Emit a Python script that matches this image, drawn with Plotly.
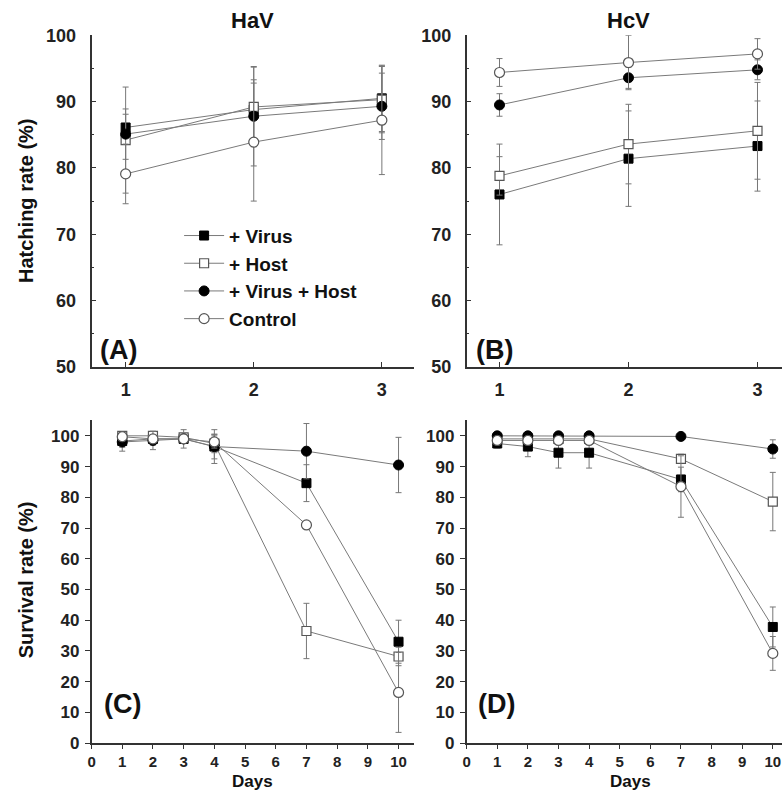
import plotly.graph_objects as go

# ---------------- data ----------------
series_names = ["+ Virus", "+ Host", "+ Virus + Host", "Control"]
hatch_days = [1, 2, 3]
surv_days = [1, 2, 3, 4, 7, 10]

# (A) HaV hatching rate
hav_virus = [86.1, 88.8, 90.5]
hav_host = [84.2, 89.2, 90.3]
hav_vh = [85.1, 87.8, 89.3]
hav_ctrl = [79.1, 83.9, 87.2]
hav_virus_err = [2.0, 4.5, 5.0]
hav_host_err = [8.0, 6.0, 5.0]
hav_vh_err = [3.8, 7.5, 5.0]
hav_ctrl_err = [4.5, 8.9, 8.2]

# (B) HcV hatching rate
hcv_virus = [76.0, 81.4, 83.3]
hcv_host = [78.8, 83.6, 85.6]
hcv_vh = [89.5, 93.6, 94.8]
hcv_ctrl = [94.4, 95.9, 97.2]
hcv_virus_err = [7.6, 7.2, 6.8]
hcv_host_err = [2.9, 6.0, 7.3]
hcv_vh_err = [1.7, 1.6, 1.5]
hcv_ctrl_err = [2.1, 4.1, 2.3]

# (C) HaV survival rate
c_virus = [98.3, 99.0, 99.0, 96.5, 84.6, 33.0]
c_host = [100.0, 100.0, 99.5, 97.5, 36.5, 28.2]
c_vh = [98.0, 98.5, 99.0, 96.5, 95.0, 90.5]
c_ctrl = [99.7, 99.0, 99.0, 98.0, 71.0, 16.5]
c_virus_err = [2.0, 2.0, 1.5, 4.0, 6.0, 7.0]
c_host_err = [1.0, 1.0, 1.0, 3.0, 9.0, 3.0]
c_vh_err = [3.0, 3.0, 3.0, 5.5, 9.0, 9.0]
c_ctrl_err = [1.0, 1.0, 1.0, 2.0, 1.0, 13.0]

# (D) HcV survival rate
d_virus = [97.5, 96.5, 94.5, 94.5, 85.8, 37.8]
d_host = [99.0, 99.0, 99.0, 99.0, 92.5, 78.6]
d_vh = [100.0, 100.0, 100.0, 100.0, 99.8, 95.7]
d_ctrl = [98.5, 98.5, 98.5, 98.5, 83.5, 29.2]
d_virus_err = [1.5, 3.3, 5.0, 5.0, 4.0, 6.5]
d_host_err = [1.0, 1.0, 1.0, 1.0, 1.5, 9.5]
d_vh_err = [0.5, 0.5, 0.5, 0.5, 0.5, 3.0]
d_ctrl_err = [1.0, 1.0, 1.0, 1.0, 10.0, 5.5]

# ---------------- styles ----------------
LINE_C = "#7a7a7a"
ERR_C = "#777777"
marker_styles = {
    "+ Virus": dict(symbol="square", size=9, color="black", line=dict(color="black", width=1)),
    "+ Host": dict(symbol="square", size=9, color="white", line=dict(color="#555555", width=1.2)),
    "+ Virus + Host": dict(symbol="circle", size=10, color="black", line=dict(color="black", width=1)),
    "Control": dict(symbol="circle", size=10, color="white", line=dict(color="#555555", width=1.2)),
}

FONT = "Liberation Sans Narrow, Liberation Sans, Arial, sans-serif"
FONT_W = "Liberation Sans, Arial, sans-serif"

fig = go.Figure()

panels = [
    ("x", "y", hatch_days, [hav_virus, hav_host, hav_vh, hav_ctrl],
     [hav_virus_err, hav_host_err, hav_vh_err, hav_ctrl_err], True),
    ("x2", "y2", hatch_days, [hcv_virus, hcv_host, hcv_vh, hcv_ctrl],
     [hcv_virus_err, hcv_host_err, hcv_vh_err, hcv_ctrl_err], False),
    ("x3", "y3", surv_days, [c_virus, c_host, c_vh, c_ctrl],
     [c_virus_err, c_host_err, c_vh_err, c_ctrl_err], False),
    ("x4", "y4", surv_days, [d_virus, d_host, d_vh, d_ctrl],
     [d_virus_err, d_host_err, d_vh_err, d_ctrl_err], False),
]

for xa, ya, xs, ys_list, err_list, show in panels:
    for name, ys, errs in zip(series_names, ys_list, err_list):
        fig.add_trace(go.Scatter(
            x=xs, y=ys, name=name, mode="lines+markers",
            xaxis=xa, yaxis=ya, showlegend=show, cliponaxis=False,
            line=dict(color=LINE_C, width=1),
            marker=marker_styles[name],
            error_y=dict(type="data", array=errs, visible=True,
                         color=ERR_C, thickness=1, width=3),
        ))

W, H = 782, 798


def px_x(p):
    return p / W


def px_y(p):
    return 1 - p / H


tickfont = dict(family=FONT, size=18, color="#222", weight="bold")
tickfont_b = dict(family=FONT, size=17, color="#222", weight="bold")
tickfont_bx = dict(family=FONT, size=15, color="#222", weight="bold")
base = dict(showline=True, linecolor="#333", linewidth=1.6,
            tickcolor="#333", tickwidth=1.2,
            showgrid=False, zeroline=False, ticklabeloverflow="allow")
top_x = dict(ticks="inside", ticklen=5, ticklabelstandoff=6, tickfont=tickfont, **base)
top_y = dict(ticks="inside", ticklen=5, ticklabelstandoff=10, tickfont=tickfont,
             minor=dict(ticks="inside", ticklen=3, dtick=5, tickcolor="#333"), **base)
bot_x = dict(ticks="outside", ticklen=4, ticklabelstandoff=0, tickfont=tickfont_bx, **base)
bot_y = dict(ticks="outside", ticklen=5, ticklabelstandoff=2, tickfont=tickfont_b, **base)

fig.update_layout(
    width=W, height=H,
    margin=dict(l=0, r=0, t=0, b=0),
    paper_bgcolor="white", plot_bgcolor="white",
    showlegend=True,
    legend=dict(x=px_x(176), y=px_y(212), xanchor="left", yanchor="top",
                bgcolor="rgba(0,0,0,0)",
                font=dict(family=FONT_W, size=19, color="#111", weight="bold"),
                tracegroupgap=0, itemwidth=40),
    xaxis=dict(domain=[px_x(88), px_x(412)], range=[0.734, 3.25], anchor="y",
               tickvals=[1, 2, 3], **top_x),
    yaxis=dict(domain=[px_y(366), px_y(26)], range=[50, 100], anchor="x",
               tickvals=[50, 60, 70, 80, 90, 100], **top_y),
    xaxis2=dict(domain=[px_x(465), 1.0], range=[0.745, 3.19], anchor="y2",
                tickvals=[1, 2, 3], **top_x),
    yaxis2=dict(domain=[px_y(366), px_y(26)], range=[50, 100], anchor="x2",
                tickvals=[50, 60, 70, 80, 90, 100], **top_y),
    xaxis3=dict(domain=[px_x(88), px_x(412)], range=[0, 10.5], anchor="y3",
                tickvals=list(range(0, 11)), **bot_x),
    yaxis3=dict(domain=[px_y(752), px_y(421)], range=[0, 105], anchor="x3",
                tickvals=list(range(0, 101, 10)), **bot_y),
    xaxis4=dict(domain=[px_x(465), 1.0], range=[0, 10.3], anchor="y4",
                tickvals=list(range(0, 11)), **bot_x),
    yaxis4=dict(domain=[px_y(752), px_y(421)], range=[0, 105], anchor="x4",
                tickvals=list(range(0, 101, 10)), **bot_y),
)

ann = []


def add_text(text, x, y, size, angle=0, family=FONT_W, pad=1):
    ann.append(dict(text=text, x=px_x(x), y=px_y(y), xref="paper", yref="paper",
                    showarrow=False, textangle=angle, xanchor="center", yanchor="middle",
                    borderpad=pad,
                    font=dict(family=family, size=size, color="#111", weight="bold")))


add_text("HaV", 250, 11, 22)
add_text("HcV", 628, 11, 22)
add_text("Hatching rate (%)", 22, 196, 20, -90)
add_text("Survival rate (%)", 22, 584, 20, -90)
add_text("Days", 250, 791, 17, pad=0)
add_text("Days", 630, 791, 17, pad=0)
add_text("(A)", 115, 349, 27, family=FONT)
add_text("(B)", 493, 349, 27, family=FONT)
add_text("(C)", 119, 712, 27, family=FONT)
add_text("(D)", 495, 712, 27, family=FONT)

fig.update_layout(annotations=ann)

fig.write_html("out.html")
